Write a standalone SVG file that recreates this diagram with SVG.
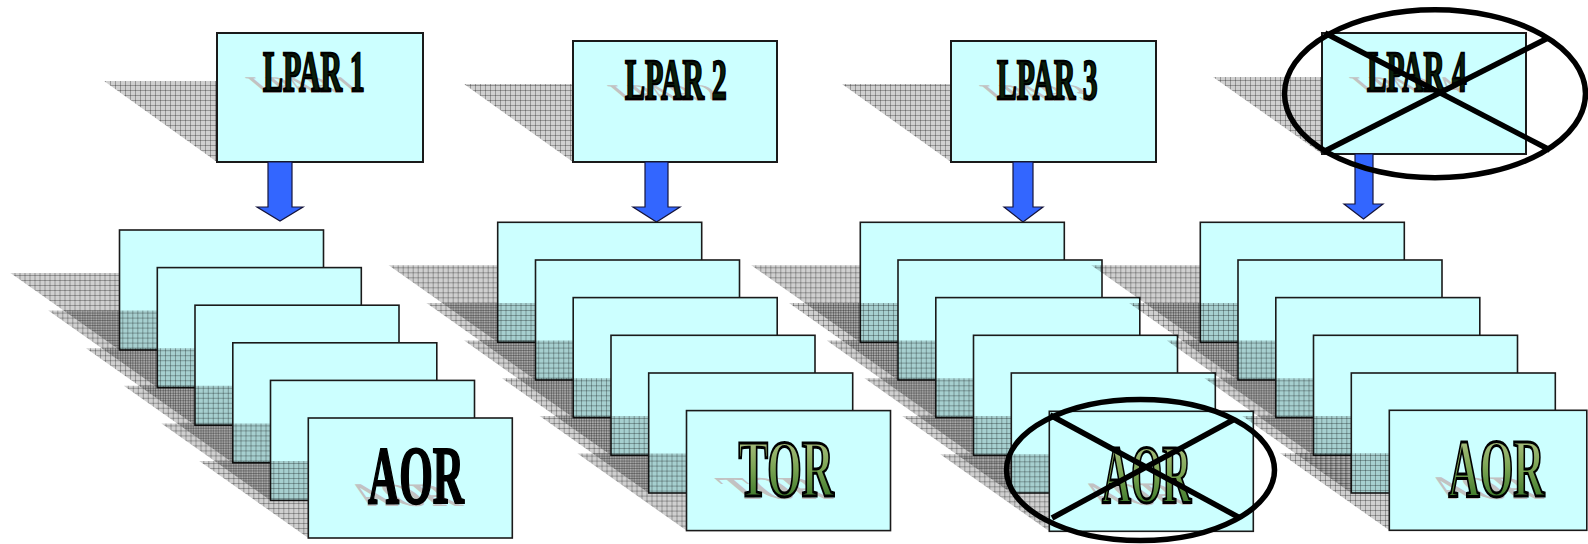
<svg xmlns="http://www.w3.org/2000/svg" width="1588" height="544" viewBox="0 0 1588 544">
<style>
.shadow{fill:url(#grid)}
.card{fill:#ccffff;stroke:#1a1a1a;stroke-width:1.6}
.box{fill:#ccffff;stroke:#1a1a1a;stroke-width:2}
.arrow{fill:#3366ff;stroke:#14143c;stroke-width:1.2}
.cross{fill:none;stroke:#000;stroke-width:5.5}
.t{font-family:"Liberation Serif","Times New Roman",serif;font-weight:bold}
.lp{font-size:57px;fill:#0b1f0b;stroke:#000;stroke-width:2.4}
.ao{font-size:82px}
.blk{fill:#000;stroke:#000;stroke-width:2.2}
.grn{fill:url(#wa);stroke:#000;stroke-width:3}
.refl{fill:#c2c2c2;stroke:none}
</style>
<defs>
<pattern id="grid" patternUnits="userSpaceOnUse" width="5" height="5">
<rect width="5" height="5" fill="#000" fill-opacity="0.19"/>
<path d="M0.5 0V5M0 0.5H5" stroke="#000" stroke-opacity="0.28" stroke-width="1"/>
</pattern>
<linearGradient id="wa" x1="0" y1="0" x2="0" y2="1">
<stop offset="0" stop-color="#c4cc98"/>
<stop offset="0.5" stop-color="#7aa452"/>
<stop offset="1" stop-color="#1f6418"/>
</linearGradient>
<g id="unit"><polygon class="shadow" points="-109,43 95,43 204,120 0,120"/><rect class="card" width="204" height="120"/></g>
</defs>

<g id="lpar1">
<polygon class="shadow" points="104,81 310,81 423,162 217,162"/>
<rect class="box" x="217" y="33" width="206" height="129"/>
<text class="t lp refl" transform="translate(263,93) skewX(50) scale(0.525,0.42)">LPAR 1</text>
<text class="t lp" transform="translate(263,90.7) scale(0.525,1)">LPAR 1</text>
</g>
<g id="lpar2">
<polygon class="shadow" points="464,84 668,84 777,162 573,162"/>
<rect class="box" x="573" y="41" width="204" height="121"/>
<text class="t lp refl" transform="translate(625,101) skewX(50) scale(0.525,0.42)">LPAR 2</text>
<text class="t lp" transform="translate(625,99) scale(0.525,1)">LPAR 2</text>
</g>
<g id="lpar3">
<polygon class="shadow" points="842,84 1047,84 1156,162 951,162"/>
<rect class="box" x="951" y="41" width="205" height="121"/>
<text class="t lp refl" transform="translate(997,101) skewX(50) scale(0.52,0.42)">LPAR 3</text>
<text class="t lp" transform="translate(997,99) scale(0.52,1)">LPAR 3</text>
</g>
<g id="lpar4">
<polygon class="shadow" points="1213,77 1417,77 1526,154 1322,154"/>
<rect class="box" x="1322" y="33" width="204" height="121"/>
<text class="t lp refl" transform="translate(1367,93) skewX(50) scale(0.515,0.42)">LPAR 4</text>
<text class="t lp" transform="translate(1367,90.7) scale(0.515,1)">LPAR 4</text>
</g>

<g id="connectors">
<polygon class="arrow" points="268,162 292,162 292,207 303,207 280,221 257,207 268,207"/>
<polygon class="arrow" points="645,162 668,162 668,207 680,207 656.5,222 633,207 645,207"/>
<polygon class="arrow" points="1013,162 1033,162 1033,207 1043,207 1023,222 1004,207 1013,207"/>
<polygon class="arrow" points="1355,154 1373,154 1373,204 1383,204 1363.5,219 1344,204 1355,204"/>
</g>

<g id="stack1">
<use href="#unit" x="119.5" y="230"/>
<use href="#unit" x="157.3" y="267.6"/>
<use href="#unit" x="195" y="305.2"/>
<use href="#unit" x="232.8" y="342.8"/>
<use href="#unit" x="270.5" y="380.4"/>
<g id="aor1">
<use href="#unit" x="308.3" y="418"/>
<text class="t ao refl" transform="translate(368,506) skewX(50) scale(0.527,0.4)">AOR</text>
<text class="t ao blk" transform="translate(368,503.3) scale(0.527,1)">AOR</text>
</g>
</g>

<g id="stack2">
<use href="#unit" x="497.7" y="222.3"/>
<use href="#unit" x="535.5" y="260"/>
<use href="#unit" x="573.2" y="297.6"/>
<use href="#unit" x="611" y="335.3"/>
<use href="#unit" x="648.7" y="373"/>
<g id="tor2">
<use href="#unit" x="686.5" y="410.6"/>
<text class="t ao refl" transform="translate(738.5,499) skewX(50) scale(0.554,0.4)" style="font-size:80px">TOR</text>
<text class="t ao grn" transform="translate(738.5,495.7) scale(0.554,1)" style="font-size:80px">TOR</text>
</g>
</g>

<g id="stack3">
<use href="#unit" x="860.3" y="222.3"/>
<use href="#unit" x="898" y="260"/>
<use href="#unit" x="935.8" y="297.6"/>
<use href="#unit" x="973.5" y="335.3"/>
<use href="#unit" x="1011.3" y="373"/>
<g id="aor3">
<use href="#unit" x="1049.3" y="411.3"/>
<text class="t ao refl" transform="translate(1102,505) skewX(50) scale(0.49,0.4)">AOR</text>
<text class="t ao grn" transform="translate(1102,501.7) scale(0.49,1)">AOR</text>
</g>
</g>

<g id="stack4">
<use href="#unit" x="1200.3" y="222.3"/>
<use href="#unit" x="1238" y="260"/>
<use href="#unit" x="1275.8" y="297.6"/>
<use href="#unit" x="1313.5" y="335.3"/>
<use href="#unit" x="1351.3" y="373"/>
<g id="aor4">
<polygon class="shadow" points="1280.3,453.3 1484.3,453.3 1587,525.8 1587,530.3 1389.3,530.3"/>
<rect class="card" x="1389.3" y="410.3" width="197.5" height="120"/>
<text class="t ao refl" transform="translate(1448.5,499) skewX(50) scale(0.527,0.4)">AOR</text>
<text class="t ao grn" transform="translate(1448.5,495.7) scale(0.527,1)">AOR</text>
</g>
</g>

<g id="cross-lpar4">
<ellipse class="cross" cx="1435" cy="93.7" rx="150.5" ry="84"/>
<line class="cross" x1="1325" y1="33" x2="1550" y2="150"/>
<line class="cross" x1="1548" y1="38" x2="1323" y2="152"/>
</g>
<g id="cross-aor3">
<ellipse class="cross" cx="1140.5" cy="470" rx="134" ry="70.5"/>
<line class="cross" x1="1050" y1="415" x2="1240" y2="518"/>
<line class="cross" x1="1233" y1="420" x2="1052" y2="518"/>
</g>
</svg>
